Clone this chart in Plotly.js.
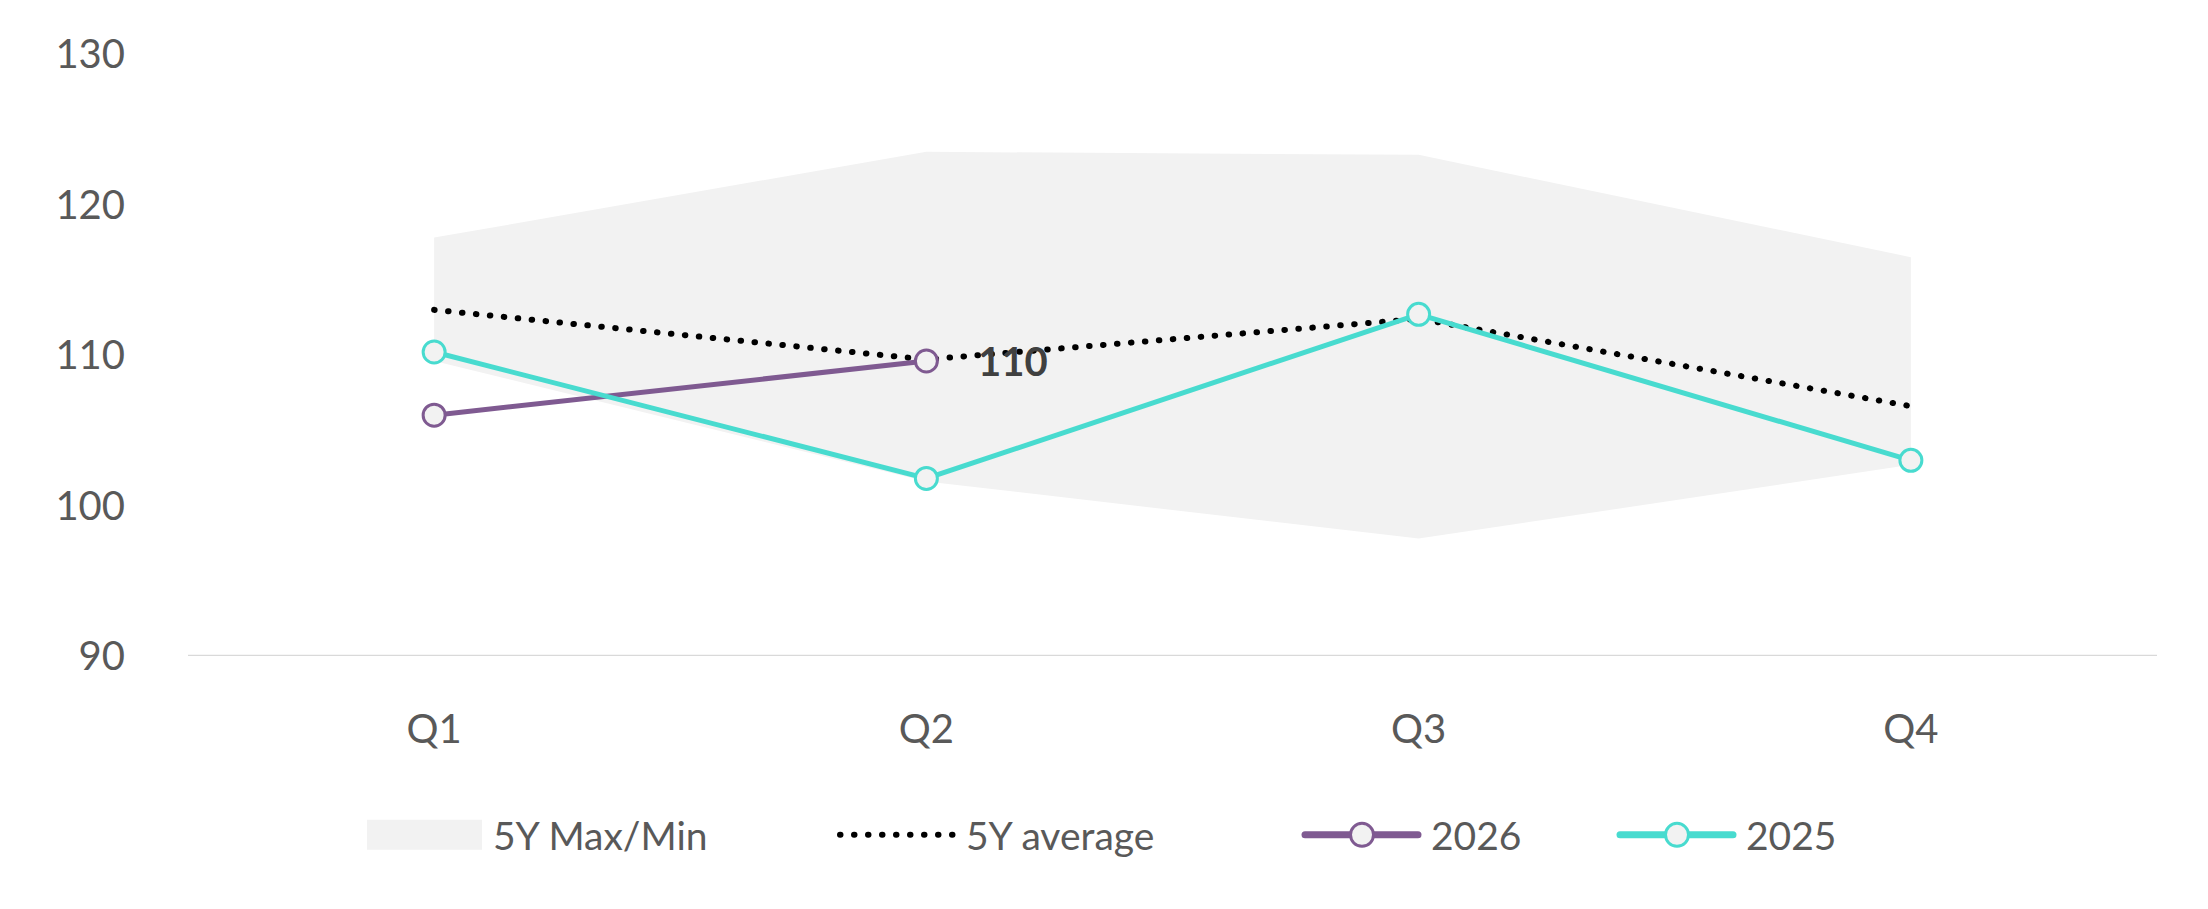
<!DOCTYPE html>
<html>
<head>
<meta charset="utf-8">
<script src="https://cdn.plot.ly/plotly-3.0.1.min.js"></script>
<style>
  html, body { margin: 0; padding: 0; background: #fff; }
  #plotDiv { width: 2208px; height: 909px; }
</style>
</head>
<body>
<div id="plotDiv"></div>
<script>
// Quarter categories
const quarters = ["Q1", "Q2", "Q3", "Q4"];

// 5-year band and average
const band_max = [117.8, 123.5, 123.3, 116.5];
const band_min = [109.6, 101.6, 97.8, 102.7];
const avg_5y = [113.0, 109.7, 112.4, 106.6];

// Yearly series
const values_2026 = [106.0, 109.6];
const values_2025 = [110.2, 101.8, 112.7, 103.0];

const yTicks = [90, 100, 110, 120, 130];

const fontFamily = "Lato, 'Open Sans', sans-serif";
const textColor = "#595959";
const W = 2208, H = 909;

let traces = [
  {
    x: quarters,
    y: band_min,
    type: "scatter",
    mode: "lines",
    line: { width: 0, color: "#f2f2f2" },
    showlegend: false,
    hoverinfo: "skip",
  },
  {
    x: quarters,
    y: band_max,
    type: "scatter",
    mode: "lines",
    fill: "tonexty",
    fillcolor: "#f2f2f2",
    line: { width: 0, color: "#f2f2f2" },
    name: "5Y Max/Min",
    legend: "legend",
    hoverinfo: "skip",
  },
  {
    x: quarters,
    y: avg_5y,
    type: "scatter",
    mode: "lines",
    uid: "avg5y",
    line: { color: "#000000", width: 6, dash: "0.5px,13.5px" },
    name: "5Y average",
    legend: "legend2",
  },
  {
    x: quarters.slice(0, values_2026.length),
    y: values_2026,
    type: "scatter",
    mode: "lines+markers",
    line: { color: "#7f5a91", width: 5 },
    marker: {
      size: 22,
      color: "#f2f2f2",
      line: { color: "#7f5a91", width: 3 },
    },
    name: "2026",
    legend: "legend3",
  },
  {
    x: quarters,
    y: values_2025,
    type: "scatter",
    mode: "lines+markers",
    line: { color: "#48dbcf", width: 5 },
    marker: {
      size: 22,
      color: "#f2f2f2",
      line: { color: "#48dbcf", width: 3 },
    },
    name: "2025",
    legend: "legend4",
  },
];

// one single-item legend per series, placed by pixel
function legendAt(px) {
  return {
    orientation: "h",
    xref: "container",
    yref: "container",
    x: px / W,
    xanchor: "left",
    y: 1 - 835 / H,
    yanchor: "middle",
    itemwidth: 121,
    bgcolor: "rgba(0,0,0,0)",
    font: { family: fontFamily, size: 39, color: textColor },
  };
}

let last = values_2026.length - 1;

let layout = {
  width: W,
  height: H,
  paper_bgcolor: "#ffffff",
  plot_bgcolor: "#ffffff",
  margin: { l: 188, r: 51, t: 54, b: 253 },
  font: { family: fontFamily, size: 39, color: textColor },
  xaxis: {
    type: "category",
    range: [-0.5, 3.5],
    showgrid: false,
    zeroline: false,
    showline: false,
    ticks: "",
    ticklabelstandoff: 46,
    tickfont: { family: fontFamily, size: 40, color: textColor },
    fixedrange: true,
  },
  yaxis: {
    range: [90, 130],
    tickvals: yTicks,
    showgrid: false,
    zeroline: false,
    showline: false,
    ticks: "",
    ticklabelstandoff: 62,
    tickfont: { family: fontFamily, size: 40, color: textColor },
    fixedrange: true,
  },
  shapes: [
    {
      type: "line",
      xref: "paper",
      yref: "y",
      x0: 0,
      x1: 1,
      y0: 90,
      y1: 90,
      line: { color: "#d9d9d9", width: 2.5 },
      layer: "below",
    },
  ],
  annotations: [
    {
      x: quarters[last],
      y: values_2026[last],
      xref: "x",
      yref: "y",
      text: String(Math.round(values_2026[last])),
      showarrow: false,
      xanchor: "left",
      yanchor: "middle",
      xshift: 50,
      font: { family: fontFamily, size: 40, color: "#404040", weight: 700 },
    },
  ],
  showlegend: true,
  legend: legendAt(362),
  legend2: legendAt(835),
  legend3: legendAt(1300),
  legend4: legendAt(1615),
};

Plotly.newPlot("plotDiv", traces, layout, { displayModeBar: false, staticPlot: true }).then(function (gd) {
  // round dots for the 5Y average line
  gd.querySelectorAll(".traceavg5y .js-line, .infolayer .legend2 .legendlines path").forEach(function (p) {
    p.style.strokeLinecap = "round";
  });
  gd.querySelectorAll(".infolayer .legend2 .legendlines path").forEach(function (p) {
    p.setAttribute("d", "M5,0h113");
  });

  // make the band's legend swatch a full box like the original
  let fill = gd.querySelector(".infolayer .legend .js-fill");
  if (fill) fill.setAttribute("d", "M5,-15h115v30h-115z");

  // legend lines/markers for the yearly series are a bit heavier in the original
  gd.querySelectorAll(".infolayer .legend3 .legendlines path, .infolayer .legend4 .legendlines path").forEach(function (p) {
    p.setAttribute("d", "M5,0h113");
    p.style.strokeWidth = "7px";
    p.style.strokeLinecap = "round";
  });
  gd.querySelectorAll(".infolayer .legend3 .legendpoints path, .infolayer .legend4 .legendpoints path").forEach(function (p) {
    p.setAttribute("d", "M8,0A11.5,11.5 0 1,1 -3.5,-11.5A11.5,11.5 0 0,1 8,0Z");
    p.style.strokeWidth = "3px";
  });
});
</script>
</body>
</html>
